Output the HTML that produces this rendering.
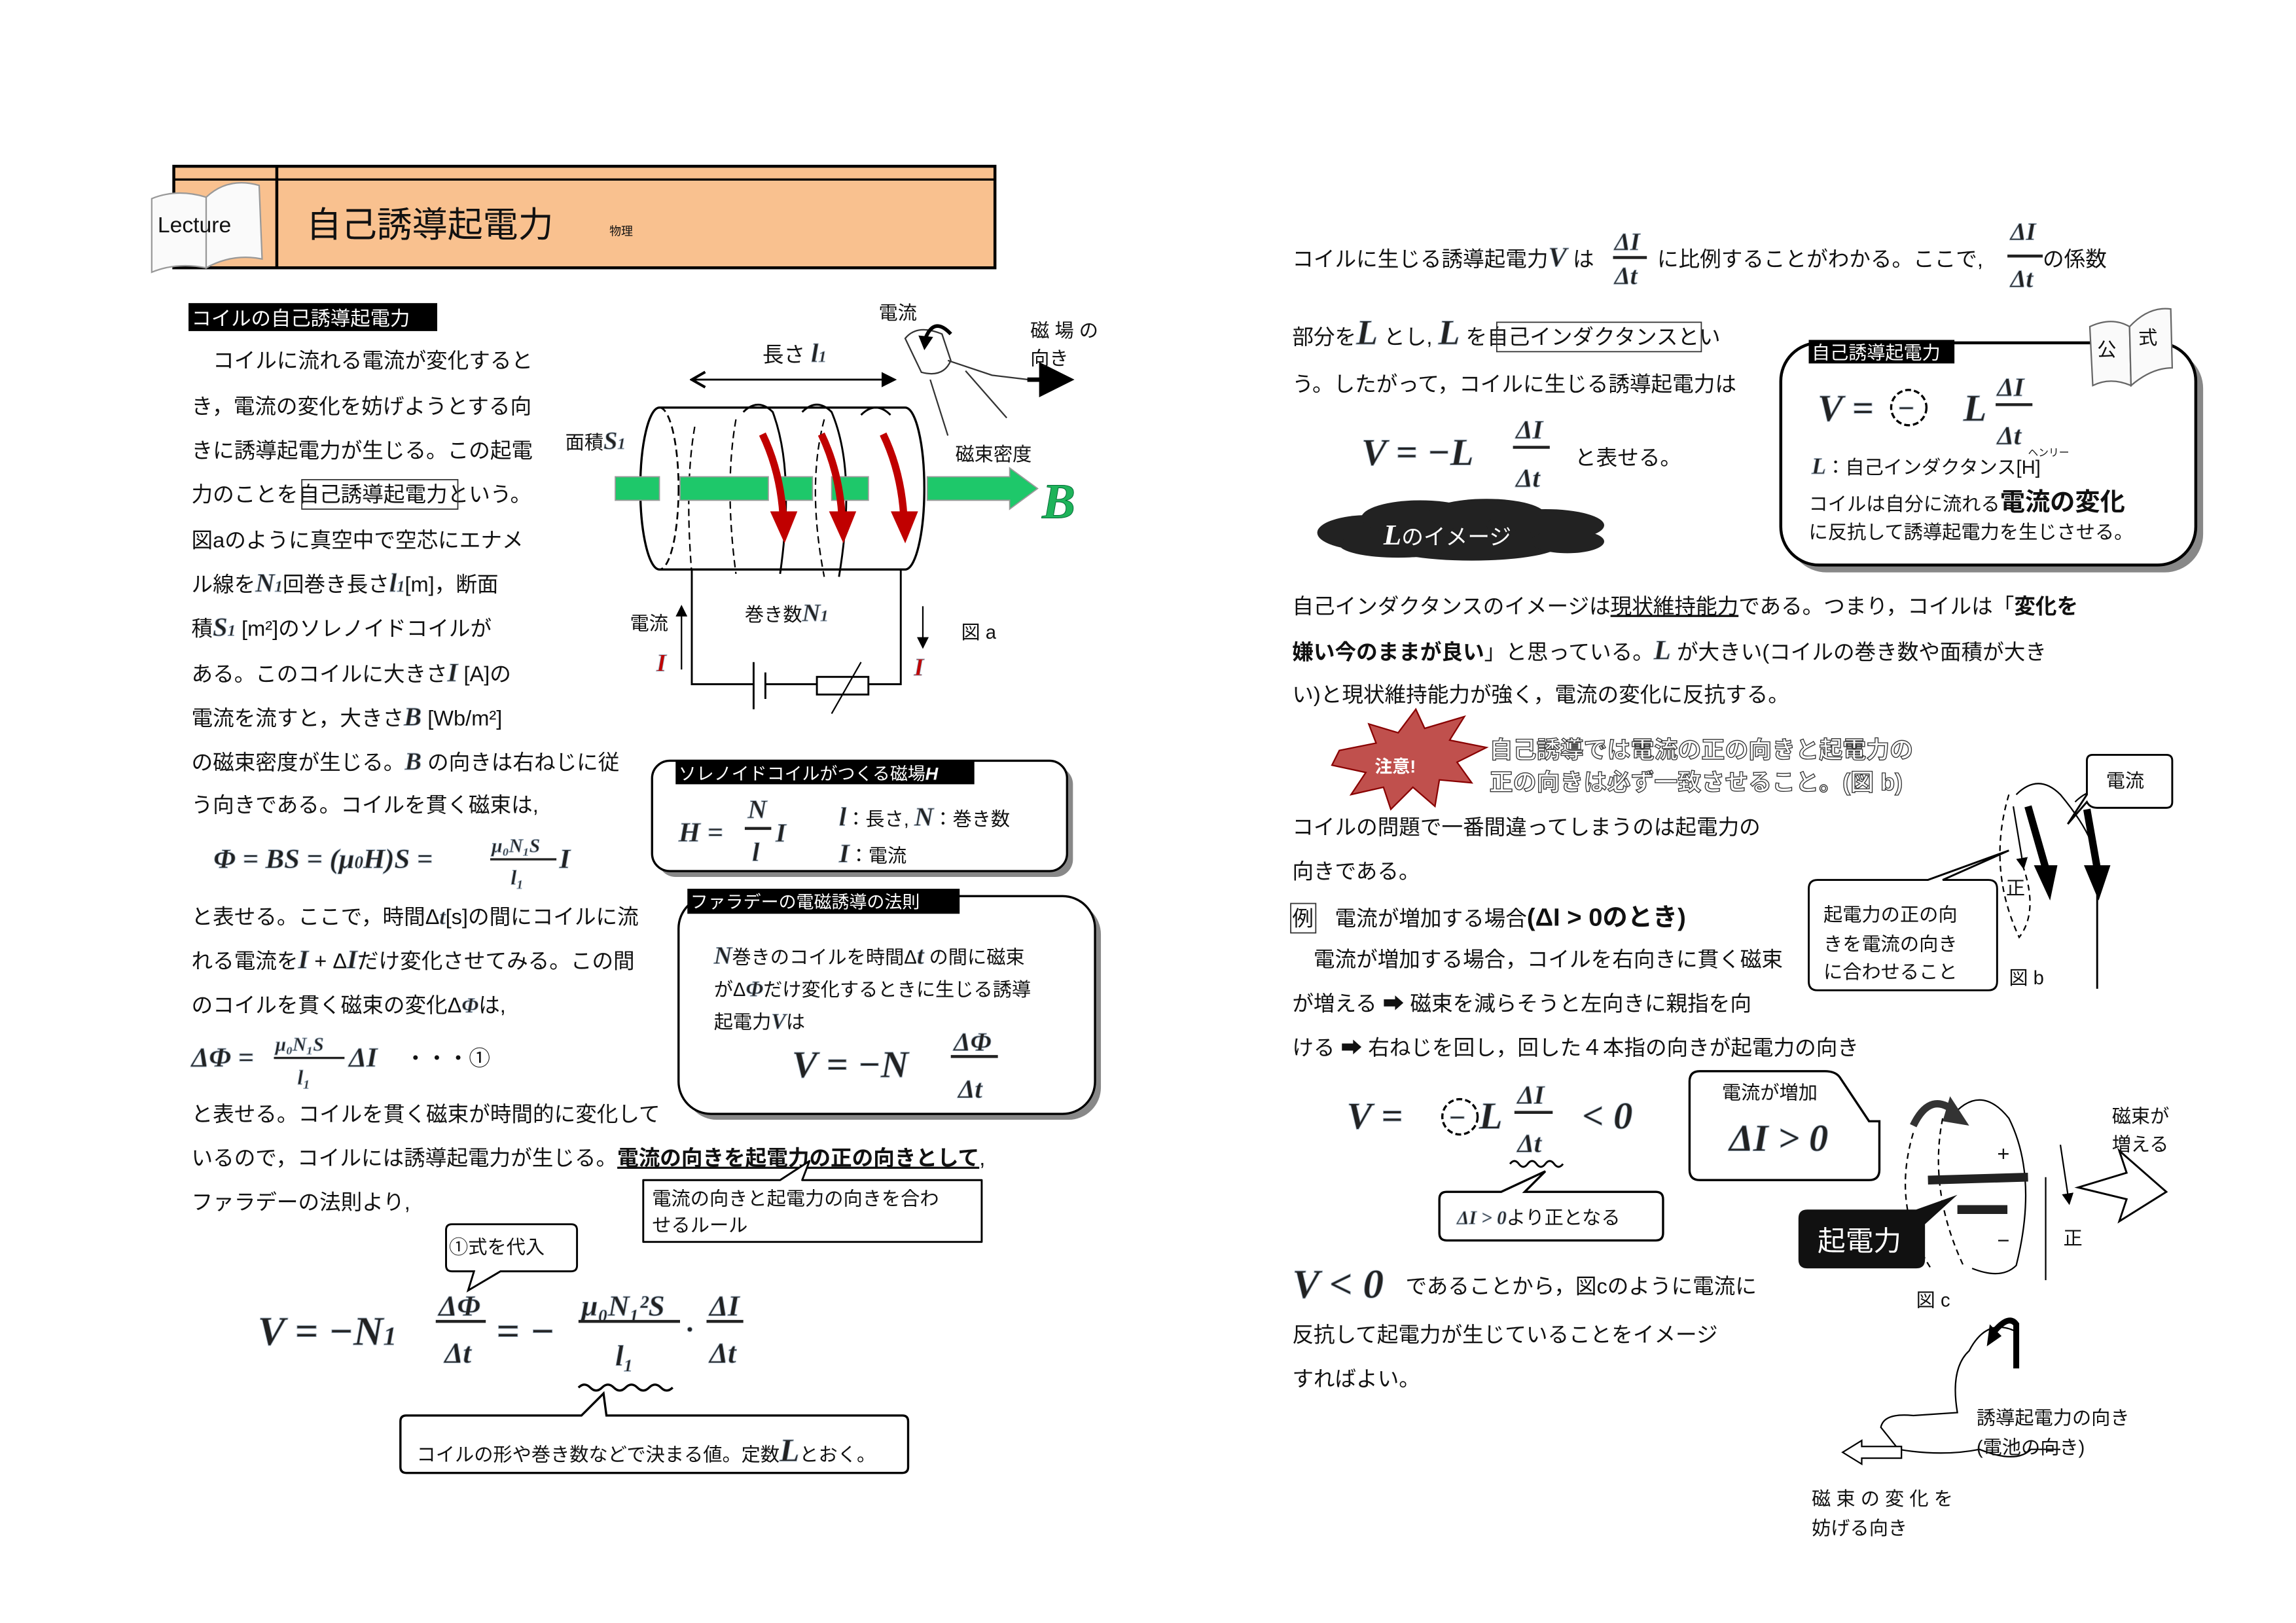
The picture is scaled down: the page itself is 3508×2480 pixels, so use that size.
<!DOCTYPE html>
<html><head><meta charset="utf-8">
<style>
html,body{margin:0;padding:0;background:#fff;width:3508px;height:2480px;overflow:hidden}
svg{display:block}
.t{font-family:"Liberation Sans","Noto Sans CJK JP",sans-serif;font-size:14.5px;fill:#111}
.s{font-family:"Liberation Sans","Noto Sans CJK JP",sans-serif;font-size:13px;fill:#111}
.m{font-family:"Liberation Serif",serif;font-weight:bold;font-style:italic;fill:#222;stroke:#9ab;stroke-width:0.4}
.w{font-family:"Liberation Sans","Noto Sans CJK JP",sans-serif;font-size:13.5px;fill:#fff}
.b{font-family:"Liberation Sans","Noto Sans CJK JP",sans-serif;font-weight:bold;fill:#fff;stroke:#333;stroke-width:0.6}
</style></head><body>
<svg width="3508" height="2480" viewBox="0 0 1560 1103" xmlns="http://www.w3.org/2000/svg">
<defs>
<marker id="ah" markerWidth="8" markerHeight="8" refX="7" refY="4" orient="auto"><path d="M0,0L8,4L0,8z" fill="#000"/></marker>
<marker id="ao" markerWidth="10" markerHeight="10" refX="1" refY="5" orient="auto"><path d="M8,1L1,5L8,9" fill="none" stroke="#000" stroke-width="1.4"/></marker>
</defs>

<!-- Header -->
<rect x="118" y="113" width="558" height="69" fill="#f9c18f" stroke="#000" stroke-width="2"/>
<line x1="118" y1="122" x2="676" y2="122" stroke="#000" stroke-width="1.5"/>
<line x1="188" y1="113" x2="188" y2="182" stroke="#000" stroke-width="2"/>
<path d="M103,135 Q120,128 140,134 L140,182 Q120,178 103,185z" fill="#fafafa" stroke="#999"/>
<path d="M140,134 Q155,120 176,126 L178,176 Q158,172 140,182z" fill="#fafafa" stroke="#999"/>
<text x="107" y="158" class="t" style="font-size:15px">Lecture</text>
<text x="208" y="161" class="t" style="font-size:24px">自己誘導起電力</text>
<text x="414" y="160" class="t" style="font-size:8px">物理</text>

<!-- Left text -->
<rect x="128" y="206" width="169" height="19" fill="#000"/>
<text x="130" y="221" class="w">コイルの自己誘導起電力</text>
<g class="t">
<text x="130" y="250">　コイルに流れる電流が変化すると</text>
<text x="130" y="281">き，電流の変化を妨げようとする向</text>
<text x="130" y="311">きに誘導起電力が生じる。この起電</text>
<text x="130" y="341">力のことを自己誘導起電力という。</text>
<text x="130" y="372">図aのように真空中で空芯にエナメ</text>
<text x="130" y="402">ル線を<tspan class="m" font-size="18">N</tspan><tspan font-size="11" class="m">1</tspan>回巻き長さ<tspan class="m" font-size="18">l</tspan><tspan font-size="11" class="m">1</tspan>[m]，断面</text>
<text x="130" y="432">積<tspan class="m" font-size="18">S</tspan><tspan font-size="11" class="m">1</tspan> [m²]のソレノイドコイルが</text>
<text x="130" y="463">ある。このコイルに大きさ<tspan class="m" font-size="18">I</tspan> [A]の</text>
<text x="130" y="493">電流を流すと，大きさ<tspan class="m" font-size="18">B</tspan> [Wb/m²]</text>
<text x="130" y="523">の磁束密度が生じる。<tspan class="m" font-size="17">B</tspan> の向きは右ねじに従</text>
<text x="130" y="552">う向きである。コイルを貫く磁束は,</text>
<text x="130" y="628">と表せる。ここで，時間Δ<tspan class="m">t</tspan>[s]の間にコイルに流</text>
<text x="130" y="658">れる電流を<tspan class="m" font-size="18">I</tspan> + Δ<tspan class="m" font-size="18">I</tspan>だけ変化させてみる。この間</text>
<text x="130" y="688">のコイルを貫く磁束の変化Δ<tspan class="m">Φ</tspan>は,</text>
<text x="130" y="762">と表せる。コイルを貫く磁束が時間的に変化して</text>
<text x="130" y="792">いるので，コイルには誘導起電力が生じる。<tspan font-weight="bold" text-decoration="underline">電流の向きを起電力の正の向きとして</tspan>,</text>
<text x="130" y="822">ファラデーの法則より,</text>
</g>
<rect x="205" y="326" width="106" height="20" fill="none" stroke="#333" stroke-width="0.8"/>

<!-- formulas left -->
<text x="145" y="590" class="m" font-size="19">Φ = BS = (μ<tspan font-size="12">0</tspan>H)S =</text>
<text x="334" y="579" class="m" font-size="13">μ₀N₁S</text>
<line x1="333" y1="584" x2="378" y2="584" stroke="#222" stroke-width="1.5"/>
<text x="347" y="601" class="m" font-size="14">l₁</text>
<text x="380" y="590" class="m" font-size="19">I</text>

<text x="130" y="725" class="m" font-size="19">ΔΦ =</text>
<text x="187" y="714" class="m" font-size="13">μ₀N₁S</text>
<line x1="186" y1="719" x2="234" y2="719" stroke="#222" stroke-width="1.5"/>
<text x="202" y="737" class="m" font-size="14">l₁</text>
<text x="237" y="725" class="m" font-size="19">ΔI</text>
<text x="275" y="724" class="t">・・・①</text>

<!-- callouts -->
<path d="M437,802 L530,802 L550,789 L545,802 L667,802 L667,844 L437,844z" fill="#fff" stroke="#000" stroke-width="1.3" stroke-linejoin="round"/>
<text x="443" y="819" class="s">電流の向きと起電力の向きを合わ</text>
<text x="443" y="837" class="s">せるルール</text>
<path d="M307,832 L388,832 Q392,832 392,836 L392,860 Q392,864 388,864 L340,864 L318,877 L322,864 L307,864 Q303,864 303,860 L303,836 Q303,832 307,832z" fill="#fff" stroke="#000" stroke-width="1.3"/>
<text x="305" y="852" class="s">①式を代入</text>

<text x="175" y="914" class="m" font-size="28">V = −N<tspan font-size="18">1</tspan></text>
<text x="298" y="894" class="m" font-size="20">ΔΦ</text>
<line x1="296" y1="898" x2="330" y2="898" stroke="#222" stroke-width="2"/>
<text x="302" y="926" class="m" font-size="20">Δt</text>
<text x="337" y="914" class="m" font-size="28">= −</text>
<text x="395" y="894" class="m" font-size="20">μ₀N₁²S</text>
<line x1="393" y1="898" x2="462" y2="898" stroke="#222" stroke-width="2"/>
<text x="418" y="928" class="m" font-size="20">l₁</text>
<text x="466" y="910" class="m" font-size="20">·</text>
<text x="482" y="894" class="m" font-size="20">ΔI</text>
<line x1="480" y1="898" x2="505" y2="898" stroke="#222" stroke-width="2"/>
<text x="482" y="926" class="m" font-size="20">Δt</text>
<path d="M393,943 q4,-4 8,0 t8,0 t8,0 t8,0 t8,0 t8,0 t8,0 t8,0" fill="none" stroke="#000" stroke-width="1.5"/>
<path d="M276,962 L395,962 L410,947 L412,962 L613,962 Q617,962 617,966 L617,997 Q617,1001 613,1001 L276,1001 Q272,1001 272,997 L272,966 Q272,962 276,962z" fill="#fff" stroke="#000" stroke-width="1.5"/>
<text x="283" y="993" class="s">コイルの形や巻き数などで決まる値。定数<tspan class="m" font-size="22">L</tspan>とおく。</text>

<!-- Figure a -->
<line x1="470" y1="258" x2="608" y2="258" stroke="#000" stroke-width="1.3" marker-start="url(#ao)" marker-end="url(#ah)"/>
<text x="518" y="246" class="t">長さ <tspan class="m" font-size="18">l</tspan><tspan class="m" font-size="11">1</tspan></text>
<text x="597" y="217" class="s">電流</text>
<path d="M615,230 q8,-10 25,-3 l6,18 q-5,12 -20,8z M644,245 q15,5 30,10 l25,3 M632,258 l12,38 M656,252 l28,32" fill="none" stroke="#333" stroke-width="1"/>
<path d="M628,232 q6,-18 18,-5" fill="none" stroke="#000" stroke-width="2.5"/>
<path d="M624,228 L634,229 L628,238z"/>
<line x1="698" y1="258" x2="727" y2="258" stroke="#000" stroke-width="3" marker-end="url(#ah)"/>
<text x="700" y="229" class="s">磁 場 の</text>
<text x="700" y="248" class="s">向き</text>
<text x="384" y="305" class="s">面積<tspan class="m" font-size="17">S</tspan><tspan class="m" font-size="11">1</tspan></text>
<text x="649" y="313" class="s">磁束密度</text>
<ellipse cx="448" cy="332" rx="13" ry="55" fill="none" stroke="#000" stroke-width="1.2" stroke-dasharray="5,3"/>
<path d="M448,277 L615,277 A13,55 0 0 1 615,387 L448,387 A13,55 0 0 1 448,277" fill="none" stroke="#000" stroke-width="1.5"/>
<path d="M472,290 Q465,330 470,390 M500,285 Q492,330 500,390 M560,285 Q548,330 560,392" fill="none" stroke="#000" stroke-width="1" stroke-dasharray="5,3"/>
<path d="M505,280 q10,-10 20,0 Q540,320 530,390 M545,280 q10,-10 20,0 Q582,320 570,392 M585,282 q10,-10 20,0" fill="none" stroke="#000" stroke-width="1.3"/>
<g fill="#1ec86a" stroke="#999" stroke-width="0.8">
<rect x="418" y="324" width="30" height="16"/><rect x="462" y="324" width="60" height="16"/><rect x="530" y="324" width="22" height="16"/><rect x="565" y="324" width="25" height="16"/>
<path d="M630,324 L686,324 L686,318 L705,332 L686,346 L686,340 L630,340z"/>
</g>
<g stroke="#c00000" fill="#c00000">
<path d="M518,295 Q530,320 532,350" stroke-width="5" fill="none"/><path d="M524,348 L541,348 L533,368z"/>
<path d="M558,295 Q570,320 572,350" stroke-width="5" fill="none"/><path d="M564,348 L581,348 L573,368z"/>
<path d="M600,295 Q612,320 614,350" stroke-width="5" fill="none"/><path d="M606,348 L623,348 L615,368z"/>
</g>
<text x="708" y="352" class="m" font-size="34" style="fill:#1eb35a;stroke:#063">B</text>
<path d="M470,387 L470,465 L512,465 M520,465 L555,465 M590,465 L612,465 L612,387" fill="none" stroke="#000" stroke-width="1.3"/>
<line x1="512" y1="450" x2="512" y2="482" stroke="#000" stroke-width="1.3"/>
<line x1="520" y1="457" x2="520" y2="475" stroke="#000" stroke-width="1.3"/>
<rect x="555" y="460" width="35" height="12" fill="#fff" stroke="#000" stroke-width="1.3"/>
<line x1="565" y1="485" x2="585" y2="450" stroke="#000"/>
<line x1="463" y1="455" x2="463" y2="412" stroke="#000" marker-end="url(#ah)"/>
<line x1="627" y1="412" x2="627" y2="440" stroke="#000" marker-end="url(#ah)"/>
<text x="428" y="428" class="s">電流</text>
<text x="446" y="456" class="m" font-size="17" style="fill:#c00000">I</text>
<text x="621" y="459" class="m" font-size="17" style="fill:#c00000">I</text>
<text x="506" y="422" class="s">巻き数<tspan class="m" font-size="17">N</tspan><tspan class="m" font-size="11">1</tspan></text>
<text x="653" y="434" class="s">図 a</text>

<!-- Box H -->
<rect x="447" y="521" width="282" height="75" rx="12" fill="#888"/>
<rect x="443" y="517" width="282" height="75" rx="12" fill="#fff" stroke="#000" stroke-width="1.5"/>
<rect x="459" y="517" width="203" height="16" fill="#000"/>
<text x="461" y="530" class="w" style="font-size:12px">ソレノイドコイルがつくる磁場<tspan font-style="italic" font-weight="bold">H</tspan></text>
<text x="461" y="572" class="m" font-size="19">H =</text>
<text x="508" y="556" class="m" font-size="18">N</text>
<line x1="506" y1="563" x2="524" y2="563" stroke="#222" stroke-width="2"/>
<text x="511" y="585" class="m" font-size="18">l</text>
<text x="527" y="572" class="m" font-size="18">I</text>
<text x="570" y="561" class="s"><tspan class="m" font-size="18">l</tspan>：長さ, <tspan class="m" font-size="18">N</tspan>：巻き数</text>
<text x="570" y="586" class="s"><tspan class="m" font-size="18">I</tspan>：電流</text>

<!-- Box Faraday -->
<rect x="465" y="613" width="283" height="148" rx="22" fill="#888"/>
<rect x="461" y="609" width="283" height="148" rx="22" fill="#fff" stroke="#000" stroke-width="1.5"/>
<rect x="467" y="604" width="185" height="17" fill="#000"/>
<text x="469" y="617" class="w" style="font-size:12px">ファラデーの電磁誘導の法則</text>
<text x="485" y="655" class="s"><tspan class="m" font-size="17">N</tspan>巻きのコイルを時間Δ<tspan class="m" font-size="17">t</tspan> の間に磁束</text>
<text x="485" y="677" class="s">がΔ<tspan class="m" font-size="15">Φ</tspan>だけ変化するときに生じる誘導</text>
<text x="485" y="699" class="s">起電力<tspan class="m" font-size="15">V</tspan>は</text>
<text x="538" y="732" class="m" font-size="26">V = −N</text>
<text x="648" y="714" class="m" font-size="18">ΔΦ</text>
<line x1="646" y1="718" x2="678" y2="718" stroke="#222" stroke-width="2"/>
<text x="651" y="746" class="m" font-size="18">Δt</text>

<!-- Right column -->
<g class="t">
<text x="878" y="181">コイルに生じる誘導起電力<tspan class="m" font-size="19">V</tspan> は</text>
<text x="1126" y="181">に比例することがわかる。ここで,</text>
<text x="1388" y="181">の係数</text>
<text x="878" y="234">部分を<tspan class="m" font-size="24">L</tspan> とし, <tspan class="m" font-size="24">L</tspan> を自己インダクタンスとい</text>
<text x="878" y="266">う。したがって，コイルに生じる誘導起電力は</text>
<text x="1070" y="316">と表せる。</text>
<text x="878" y="417">自己インダクタンスのイメージは<tspan text-decoration="underline">現状維持能力</tspan>である。つまり，コイルは「<tspan font-weight="bold">変化を</tspan></text>
<text x="878" y="448"><tspan font-weight="bold">嫌い今のままが良い</tspan>」と思っている。<tspan class="m" font-size="19">L</tspan> が大きい(コイルの巻き数や面積が大き</text>
<text x="878" y="477">い)と現状維持能力が強く，電流の変化に反抗する。</text>
<text x="878" y="567">コイルの問題で一番間違ってしまうのは起電力の</text>
<text x="878" y="597">向きである。</text>
<text x="878" y="629">例　電流が増加する場合<tspan font-weight="bold" font-size="17">(ΔI &gt; 0のとき)</tspan></text>
<text x="878" y="657">　電流が増加する場合，コイルを右向きに貫く磁束</text>
<text x="878" y="687">が増える ➡ 磁束を減らそうと左向きに親指を向</text>
<text x="878" y="717">ける ➡ 右ねじを回し，回した４本指の向きが起電力の向き</text>
<text x="955" y="879">であることから，図cのように電流に</text>
<text x="878" y="912">反抗して起電力が生じていることをイメージ</text>
<text x="878" y="942">すればよい。</text>
</g>
<rect x="877" y="614" width="17" height="20" fill="none" stroke="#333" stroke-width="0.8"/>
<rect x="1017" y="219" width="139" height="20" fill="none" stroke="#333" stroke-width="0.8"/>
<text x="1097" y="170" class="m" font-size="17">ΔI</text>
<line x1="1096" y1="175" x2="1119" y2="175" stroke="#222" stroke-width="2"/>
<text x="1097" y="193" class="m" font-size="17">Δt</text>
<text x="1366" y="163" class="m" font-size="17">ΔI</text>
<line x1="1364" y1="174" x2="1388" y2="174" stroke="#222" stroke-width="2"/>
<text x="1366" y="195" class="m" font-size="17">Δt</text>
<text x="925" y="316" class="m" font-size="26">V = −L</text>
<text x="1030" y="298" class="m" font-size="18">ΔI</text>
<line x1="1028" y1="304" x2="1053" y2="304" stroke="#222" stroke-width="2"/>
<text x="1030" y="331" class="m" font-size="18">Δt</text>
<!-- cloud -->
<g fill="#222">
<ellipse cx="930" cy="362" rx="35" ry="12"/>
<ellipse cx="965" cy="352" rx="40" ry="12"/>
<ellipse cx="1010" cy="350" rx="40" ry="11"/>
<ellipse cx="1050" cy="357" rx="40" ry="11"/>
<ellipse cx="1000" cy="370" rx="60" ry="11"/>
<ellipse cx="950" cy="370" rx="40" ry="9"/>
<ellipse cx="1065" cy="368" rx="25" ry="8"/>
</g>
<text x="940" y="370" class="w" style="font-size:15px"><tspan font-family="Liberation Serif" font-style="italic" font-weight="bold" font-size="20">L</tspan>のイメージ</text>

<!-- formula box right -->
<rect x="1215" y="238" width="282" height="151" rx="26" fill="#888"/>
<rect x="1210" y="233" width="282" height="151" rx="26" fill="#fff" stroke="#000" stroke-width="2"/>
<rect x="1229" y="231" width="99" height="16" fill="#000"/>
<text x="1231" y="244" class="w" style="font-size:12.5px">自己誘導起電力</text>
<path d="M1420,222 Q1435,215 1447,222 L1448,262 Q1434,256 1422,262z" fill="#fafafa" stroke="#666"/>
<path d="M1447,222 Q1460,208 1475,210 L1476,250 Q1462,250 1448,262z" fill="#fafafa" stroke="#666"/>
<text x="1425" y="242" class="s">公</text><text x="1453" y="234" class="s">式</text>
<text x="1235" y="286" class="m" font-size="26">V =</text>
<circle cx="1297" cy="277" r="12" fill="none" stroke="#000" stroke-width="1.5" stroke-dasharray="4,2"/>
<text x="1289" y="284" class="m" font-size="20">−</text>
<text x="1334" y="286" class="m" font-size="26">L</text>
<text x="1357" y="269" class="m" font-size="18">ΔI</text>
<line x1="1356" y1="275" x2="1381" y2="275" stroke="#222" stroke-width="2"/>
<text x="1357" y="302" class="m" font-size="18">Δt</text>
<text x="1378" y="310" class="s" style="font-size:7px">ヘンリー</text>
<text x="1231" y="322" class="s"><tspan class="m" font-size="16">L</tspan>：自己インダクタンス[H]</text>
<text x="1229" y="347" class="s">コイルは自分に流れる<tspan font-weight="bold" font-size="17">電流の変化</tspan></text>
<text x="1229" y="366" class="s">に反抗して誘導起電力を生じさせる。</text>

<!-- starburst -->
<path d="M910,510 L935,505 L930,492 L950,498 L962,482 L968,495 L995,487 L985,503 L1010,508 L990,518 L1000,532 L978,530 L975,548 L960,535 L945,550 L940,535 L918,540 L928,525 L905,520z" fill="#c0504d" stroke="#800"/>
<text x="934" y="525" class="w" style="font-size:12px;font-weight:bold">注意!</text>
<text x="1012" y="515" class="b" style="font-size:16px">自己誘導では電流の正の向きと起電力の</text>
<text x="1012" y="537" class="b" style="font-size:16px">正の向きは必ず一致させること。(図 b)</text>

<!-- fig b -->
<path d="M1365,540 Q1350,590 1372,637 Q1385,620 1375,590" fill="none" stroke="#000" stroke-dasharray="4,3"/>
<path d="M1370,540 q15,-15 30,0 Q1425,570 1425,590 M1410,545 q15,-15 30,0" fill="none" stroke="#000"/>
<line x1="1425" y1="580" x2="1425" y2="672" stroke="#000" stroke-width="1.3"/>
<path d="M1378,548 L1390,590" stroke="#000" stroke-width="5"/><path d="M1382,588 L1398,588 L1393,612z"/>
<path d="M1418,550 L1425,590" stroke="#000" stroke-width="5"/><path d="M1416,588 L1434,588 L1426,612z"/>
<line x1="1368" y1="548" x2="1375" y2="590" stroke="#000" marker-end="url(#ah)"/>
<text x="1363" y="608" class="s">正</text>
<path d="M1422,513 L1472,513 Q1476,513 1476,517 L1476,545 Q1476,549 1472,549 L1425,549 Q1420,549 1418,545 L1405,560 L1418,540 L1418,517 Q1418,513 1422,513z" fill="#fff" stroke="#000" stroke-width="1.3"/>
<text x="1431" y="535" class="s">電流</text>
<path d="M1235,598 L1310,598 L1365,578 L1320,598 L1351,598 Q1357,598 1357,604 L1357,667 Q1357,673 1351,673 L1235,673 Q1229,673 1229,667 L1229,604 Q1229,598 1235,598z" fill="#fff" stroke="#000" stroke-width="1.3"/>
<text x="1239" y="626" class="s">起電力の正の向</text>
<text x="1239" y="646" class="s">きを電流の向き</text>
<text x="1239" y="665" class="s">に合わせること</text>
<text x="1365" y="669" class="s">図 b</text>

<!-- fig c formula -->
<text x="915" y="767" class="m" font-size="26">V =</text>
<circle cx="992" cy="759" r="12" fill="none" stroke="#000" stroke-width="1.5" stroke-dasharray="4,2"/>
<text x="984" y="766" class="m" font-size="20">−</text>
<text x="1005" y="767" class="m" font-size="26">L</text>
<text x="1031" y="750" class="m" font-size="18">ΔI</text>
<line x1="1029" y1="756" x2="1055" y2="756" stroke="#222" stroke-width="2"/>
<text x="1031" y="783" class="m" font-size="18">Δt</text>
<text x="1075" y="767" class="m" font-size="26">&lt; 0</text>
<path d="M1026,791 q3,-4 6,0 t6,0 t6,0 t6,0 t6,0 t6,0" fill="none" stroke="#000" stroke-width="1.3"/>
<path d="M983,810 L1020,810 L1050,796 L1036,810 L1125,810 Q1130,810 1130,815 L1130,838 Q1130,843 1125,843 L983,843 Q978,843 978,838 L978,815 Q978,810 983,810z" fill="#fff" stroke="#000" stroke-width="1.5"/>
<text x="990" y="832" class="s"><tspan class="m">ΔI &gt; 0</tspan>より正となる</text>
<text x="878" y="882" class="m" font-size="28">V &lt; 0</text>
<path d="M1155,728 L1240,728 Q1247,728 1250,732 L1270,762 L1277,762 L1277,795 Q1277,802 1270,802 L1155,802 Q1148,802 1148,795 L1148,735 Q1148,728 1155,728z" fill="#fff" stroke="#000" stroke-width="1.5"/>
<text x="1170" y="747" class="s">電流が増加</text>
<text x="1175" y="782" class="m" font-size="26">ΔI &gt; 0</text>
<path d="M1300,770 Q1285,820 1312,862 M1320,760 Q1310,810 1335,862" fill="none" stroke="#000" stroke-dasharray="4,3"/>
<path d="M1325,760 q20,-25 40,0 Q1385,800 1370,860 Q1360,870 1340,862" fill="none" stroke="#000"/>
<line x1="1390" y1="800" x2="1390" y2="870" stroke="#000"/>
<path d="M1300,765 Q1312,740 1330,757" fill="none" stroke="#333" stroke-width="5"/>
<path d="M1325,745 L1338,765 L1320,762z" fill="#333"/>
<line x1="1310" y1="802" x2="1378" y2="800" stroke="#222" stroke-width="6"/>
<line x1="1330" y1="822" x2="1364" y2="822" stroke="#222" stroke-width="6"/>
<text x="1357" y="789" class="t">+</text><text x="1357" y="848" class="t">−</text>
<line x1="1400" y1="778" x2="1406" y2="818" stroke="#000" marker-end="url(#ah)"/>
<text x="1402" y="846" class="s">正</text>
<path d="M1412,807 L1445,797 L1440,782 L1472,810 L1440,830 L1445,815z" fill="#fff" stroke="#000" stroke-width="1.3"/>
<text x="1435" y="763" class="s">磁束が</text><text x="1435" y="782" class="s">増える</text>
<path d="M1228,822 L1302,822 L1330,812 L1308,832 L1308,856 Q1308,862 1302,862 L1228,862 Q1222,862 1222,856 L1222,828 Q1222,822 1228,822z" fill="#111"/>
<text x="1235" y="850" class="w" style="font-size:19px">起電力</text>
<text x="1302" y="888" class="s">図 c</text>

<!-- hand -->
<path d="M1370,905 Q1350,895 1338,918 Q1325,930 1330,960 L1300,962 Q1280,960 1278,970 L1290,985 Q1320,990 1345,985 Q1370,995 1380,985 L1400,985" fill="none" stroke="#000" stroke-width="1"/>
<path d="M1370,930 L1370,900 Q1365,893 1355,905" fill="none" stroke="#000" stroke-width="4"/>
<path d="M1350,915 L1352,900 L1360,908z"/>
<path d="M1252,987 L1265,979 L1265,983 L1292,983 L1292,991 L1265,991 L1265,995z" fill="#fff" stroke="#000"/>
<text x="1343" y="968" class="s">誘導起電力の向き</text>
<text x="1343" y="988" class="s">(電池の向き)</text>
<text x="1231" y="1023" class="s">磁 束 の 変 化 を</text>
<text x="1231" y="1043" class="s">妨げる向き</text>
</svg>
</body></html>
